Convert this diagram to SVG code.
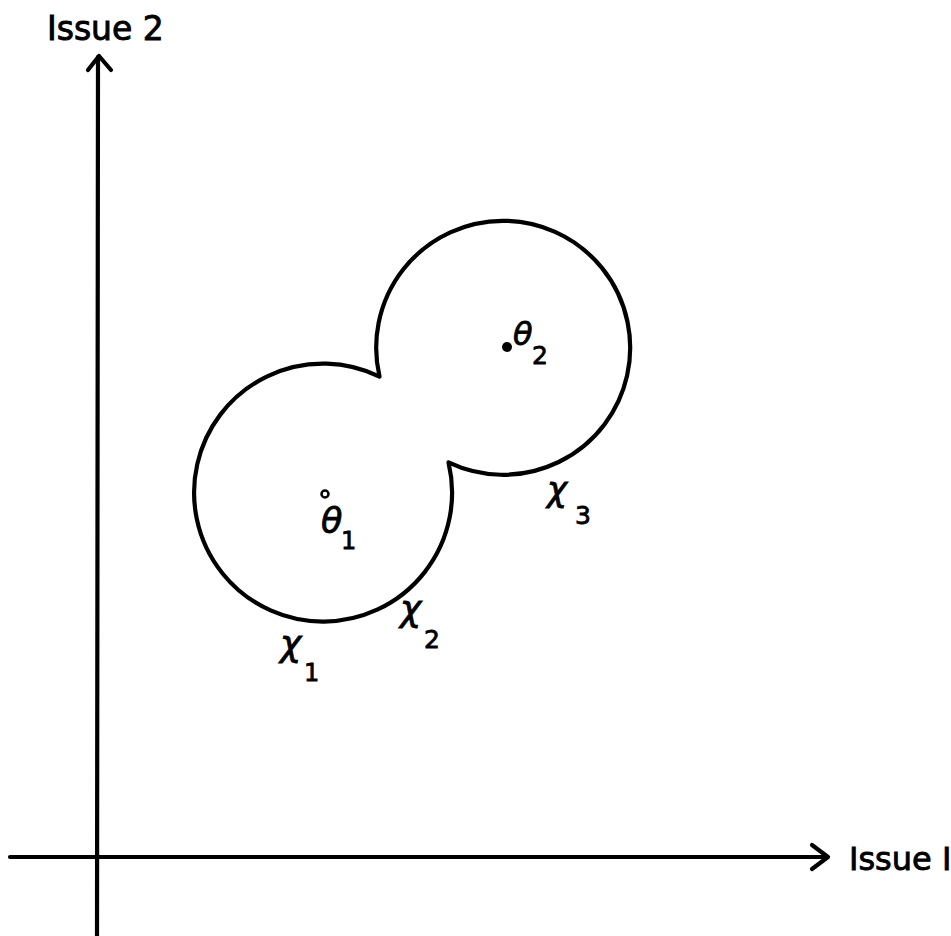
<svg xmlns="http://www.w3.org/2000/svg" width="951" height="936" viewBox="0 0 951 936">
<style>
.ax{fill:none;stroke:#000;stroke-width:4.2;stroke-linecap:round;stroke-linejoin:round}
.lbl{font-family:"DejaVu Sans","Liberation Sans",sans-serif;fill:#000;stroke:#000;stroke-width:0.9}
.gr{font-family:"DejaVu Sans","Liberation Sans",sans-serif;font-style:italic;fill:#000;stroke:#000;stroke-width:0.8}
.sub{font-family:"DejaVu Sans","Liberation Sans",sans-serif;fill:#000;stroke:#000;stroke-width:0.8}
</style>
<rect width="951" height="936" fill="#fff"/>
<g id="axes">
<path class="ax" d="M98,57 L97,936"/>
<path class="ax" d="M88,70 L99,56 L111,70"/>
<path class="ax" d="M10,857 L827,857"/>
<path class="ax" d="M812,845 L828,857 L812,869"/>
<text class="lbl" x="47" y="40" font-size="33">Issue 2</text>
<text class="lbl" x="849" y="870" font-size="32">Issue I</text>
</g>
<g id="region">
<path class="ax" d="M379.5,376.6 A129,129 0 1 0 448.5,462.4 A127,127 0 1 0 379.5,376.6 Z"/>
</g>
<g id="theta1">
<circle cx="325" cy="494" r="3.5" fill="none" stroke="#000" stroke-width="2.5"/>
<text class="gr" x="321" y="533" font-size="35">θ</text>
<text class="sub" x="341" y="549" font-size="24">1</text>
</g>
<g id="theta2">
<circle cx="507" cy="347" r="5" fill="#000"/>
<text class="gr" x="513" y="345" font-size="32">θ</text>
<text class="sub" x="532" y="364" font-size="25">2</text>
</g>
<g id="x1">
<text class="gr" x="280" y="656" font-size="36">χ</text>
<text class="sub" x="304" y="681" font-size="24">1</text>
</g>
<g id="x2">
<text class="gr" x="400" y="621" font-size="36">χ</text>
<text class="sub" x="424" y="648" font-size="25">2</text>
</g>
<g id="x3">
<text class="gr" x="547" y="501" font-size="34">χ</text>
<text class="sub" x="575" y="524" font-size="25">3</text>
</g>
</svg>
